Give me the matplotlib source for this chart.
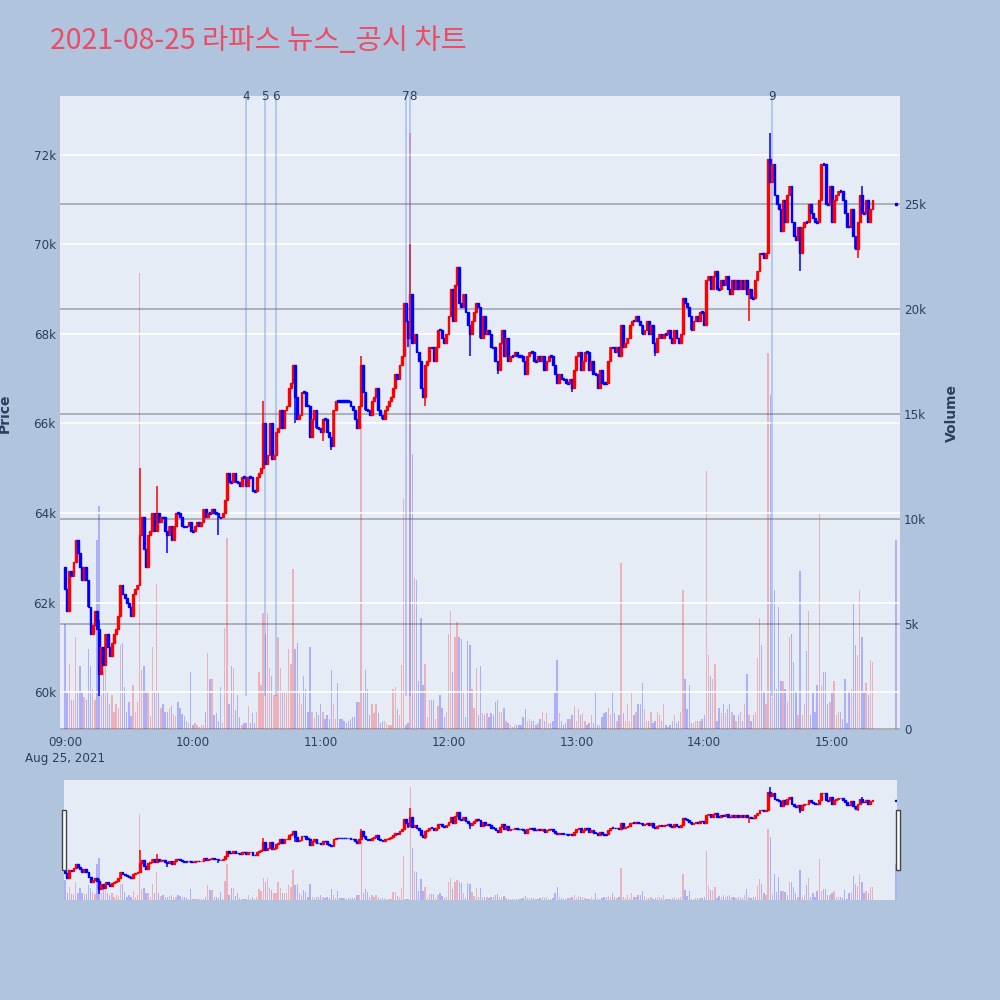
import matplotlib.pyplot as plt
from matplotlib.patches import Rectangle

plt.rcParams['font.family'] = ['DejaVu Sans']

title = "2021-08-25 라파스 뉴스_공시 차트"

# 1분봉 종가, 09:00 부터 15:19 까지
first_open = 62800
close = [
    62300, 61800, 62700, 62600, 62900, 63400, 63100, 62800, 62500, 62800,
    62500, 61900, 61300, 61500, 61800, 61400, 60400, 61000, 60600, 61300,
    61000, 60800, 61100, 61300, 61400, 61700, 62400, 62200, 62100, 62000,
    61900, 61700, 62200, 62300, 62400, 63500, 63900, 63200, 62800, 63500,
    63600, 64000, 63600, 64000, 63800, 63900, 63900, 63600, 63500, 63700,
    63400, 63700, 64000, 64000, 63900, 63700, 63700, 63700, 63800, 63600,
    63600, 63700, 63800, 63700, 63800, 64100, 63900, 64000, 64000, 64100,
    64000, 64000, 63900, 63900, 64000, 64300, 64900, 64700, 64700, 64900,
    64700, 64700, 64600, 64800, 64800, 64600, 64800, 64800, 64500, 64500,
    64800, 64900, 65000, 66000, 65100, 65300, 66000, 65200, 65300, 65800,
    65900, 66300, 65900, 66300, 66400, 66800, 66900, 67300, 66600, 66100,
    66200, 66700, 66700, 66400, 66400, 65700, 66100, 66300, 65900, 65900,
    65800, 66100, 66100, 65800, 65700, 65500, 66300, 66500, 66500, 66500,
    66500, 66500, 66500, 66500, 66400, 66300, 66100, 65900, 66400, 67300,
    66700, 66300, 66300, 66200, 66500, 66600, 66800, 66300, 66200, 66100,
    66300, 66400, 66500, 66600, 66800, 67100, 67000, 67300, 67500, 68700,
    68300, 67900, 68900, 67800, 68000, 67600, 67400, 66800, 66600, 67300,
    67400, 67700, 67700, 67400, 67700, 68100, 68100, 67900, 67800, 68000,
    68400, 69000, 68300, 69100, 69500, 68700, 68600, 68900, 68500, 68200,
    68000, 68300, 68500, 68700, 68600, 67900, 68400, 68000, 68100, 68000,
    67700, 67700, 67400, 67200, 67800, 68100, 67500, 67900, 67400, 67500,
    67500, 67600, 67500, 67500, 67500, 67400, 67100, 67500, 67600, 67600,
    67400, 67400, 67500, 67400, 67500, 67200, 67400, 67500, 67500, 67300,
    67100, 66900, 67100, 67000, 67000, 66900, 66900, 67000, 66800, 67200,
    67500, 67600, 67200, 67400, 67600, 67600, 67200, 67400, 67100, 67100,
    66800, 67200, 66900, 66900, 66900, 67400, 67700, 67700, 67600, 67700,
    67500, 68200, 67700, 67800, 67900, 68200, 68300, 68300, 68400, 68300,
    68200, 68000, 68100, 68300, 68000, 68200, 67800, 67600, 67900, 68000,
    67900, 68000, 68000, 68100, 67900, 67800, 68100, 67900, 67800, 68000,
    68800, 68700, 68600, 68400, 68100, 68300, 68400, 68300, 68500, 68500,
    68200, 69200, 69300, 69000, 69300, 69400, 69000, 69000, 69200, 69100,
    69300, 69000, 68900, 69200, 69000, 69200, 69000, 69200, 69000, 69200,
    68900, 69000, 68800, 68800, 69200, 69400, 69800, 69800, 69700, 69800,
    71900, 71400, 71800, 71100, 70900, 70800, 70300, 71000, 70500, 71100,
    71300, 70500, 70200, 70100, 70400, 69800, 70400, 70500, 70500, 70900,
    70700, 70600, 70500, 70500, 71000, 71800, 71800, 70900, 70900, 71300,
    70500, 71000, 71100, 71200, 71200, 71000, 70700, 70400, 70400, 70800,
    70200, 69900, 70500, 71100, 70700, 70700, 71000, 70500, 70800, 71000,
]
# 꼬리 (분 인덱스: 가격)
high_wick = {16: 61600, 35: 65000, 43: 64600, 93: 66500, 139: 67500,
             162: 70000, 331: 72500, 374: 71300}
low_wick = {16: 59900, 48: 63100, 72: 63500, 108: 66000, 121: 65600,
            125: 65400, 161: 67700, 169: 66400, 190: 67500, 203: 67100,
            238: 66700, 277: 67500, 321: 68300, 345: 69400, 372: 69700}

volume = [
    5000, 1700, 3100, 1400, 1400, 4400, 1700, 3000, 1700, 1500,
    1400, 3800, 3000, 1900, 1400, 9000, 10600, 1600, 2700, 3000,
    1800, 1200, 1600, 800, 1200, 1000, 4000, 4100, 2000, 800,
    1300, 600, 2100, 800, 1300, 21700, 2800, 3000, 1800, 1800,
    600, 3900, 1800, 6900, 1800, 1000, 1200, 800, 800, 1000,
    1100, 700, 600, 1300, 1000, 700, 600, 400, 300, 2700,
    200, 300, 200, 100, 200, 200, 800, 3600, 2400, 2400,
    650, 750, 370, 2000, 300, 4800, 9100, 1200, 3000, 2900,
    900, 1600, 560, 190, 280, 280, 1100, 280, 740, 280,
    830, 2700, 2100, 5500, 4500, 5500, 2900, 2500, 1600, 1600,
    4400, 2900, 1800, 1800, 1800, 3800, 3100, 7600, 3800, 4100,
    1800, 1200, 2500, 1900, 800, 3900, 800, 500, 800, 650,
    1200, 830, 460, 650, 460, 2800, 1200, 460, 2200, 460,
    460, 370, 280, 370, 460, 560, 560, 1300, 1300, 14500,
    1800, 2800, 1900, 650, 1200, 740, 1200, 740, 280, 370,
    370, 280, 190, 190, 1900, 2000, 930, 650, 3050, 11000,
    200, 300, 28400, 13100, 7200, 7100, 2300, 5300, 2100, 3100,
    560, 1400, 1400, 1400, 460, 1100, 1600, 1000, 560, 830,
    4500, 5600, 2700, 4400, 5100, 4400, 4300, 1800, 560, 4200,
    4000, 1900, 1000, 2900, 650, 3000, 740, 650, 740, 560,
    740, 650, 1300, 1400, 830, 830, 1000, 370, 280, 190,
    100, 190, 190, 190, 190, 560, 930, 370, 460, 370,
    370, 190, 280, 460, 830, 370, 740, 280, 280, 370,
    1700, 3300, 740, 370, 190, 280, 460, 460, 650, 1100,
    370, 930, 650, 740, 370, 190, 280, 650, 280, 1800,
    190, 190, 560, 740, 830, 1000, 650, 1800, 740, 370,
    650, 7900, 740, 370, 1200, 370, 1700, 650, 830, 1200,
    1200, 2200, 930, 370, 370, 830, 280, 370, 830, 650,
    370, 1200, 190, 100, 190, 370, 650, 280, 370, 830,
    6600, 2400, 930, 2100, 280, 280, 370, 370, 370, 460,
    650, 12300, 3500, 2500, 2400, 3100, 370, 1000, 740, 1200,
    740, 930, 1200, 830, 650, 370, 650, 830, 370, 1200,
    2600, 650, 370, 650, 830, 3400, 5300, 4000, 1800, 1200,
    17900, 15900, 1500, 6600, 1900, 5800, 2300, 2300, 1900, 1300,
    4400, 4500, 3200, 1800, 650, 7500, 650, 1200, 3700, 5600,
    650, 1700, 830, 2100, 10300, 2100, 2700, 2700, 1200, 1300,
    1800, 2300, 650, 830, 830, 460, 2400, 280, 1800, 1900,
    6000, 4000, 3500, 6600, 4400, 1800, 2200, 1600, 3300, 3200,
]

# 장 마감 동시호가
auction_time = "15:30"
auction_price = 70900
auction_volume = 9000

news_times = ["10:25", "10:34", "10:39", "11:40", "11:42", "14:32"]
news_labels = ["4", "5", "6", "7", "8", "9"]

BG = "#B0C4DE"
PLOT_BG = "#E5ECF6"
FONT = "#2a3f5f"
UP = "#FF0000"
DOWN = "#0000FF"


def to_min(t):
    hh, mm = t.split(":")
    return (int(hh) - 9) * 60 + int(mm)


xs = list(range(len(close))) + [to_min(auction_time)]
c = close + [auction_price]
o = [first_open] + close[:-1] + [auction_price]
v = volume + [auction_volume]
hi = [max(a, b) for a, b in zip(o, c)]
lo = [min(a, b) for a, b in zip(o, c)]
for k, val in high_wick.items():
    hi[k] = val
for k, val in low_wick.items():
    lo[k] = val
cols = [UP if cc > oo else DOWN for oo, cc in zip(o, c)]

PRICE_LIM = (59151, 73318)
VOL_LIM = (-48, 30140)


def draw(ax_p, ax_v):
    ax_v.bar(xs, v, width=0.65, color=cols, alpha=0.25, linewidth=0, zorder=2)
    ax_p.vlines(xs, lo, hi, colors=cols, linewidth=1.1, zorder=3)
    bottoms, heights = [], []
    for oo, cc in zip(o, c):
        d = abs(cc - oo)
        b = min(oo, cc)
        if d < 40:
            b -= (40 - d) / 2
            d = 40
        bottoms.append(b)
        heights.append(d)
    ax_p.bar(xs, heights, bottom=bottoms, width=0.85, color=cols,
             edgecolor=cols, linewidth=1.0, zorder=3)
    ax_p.set_ylim(*PRICE_LIM)
    ax_v.set_ylim(*VOL_LIM)
    ax_v.patch.set_visible(True)
    ax_v.patch.set_facecolor(PLOT_BG)
    ax_p.set_zorder(ax_v.get_zorder() + 1)
    ax_p.patch.set_visible(False)
    for a in (ax_p, ax_v):
        for s in a.spines.values():
            s.set_visible(False)


fig = plt.figure(figsize=(10, 10), dpi=100, facecolor=BG)

# 메인 차트
ax = fig.add_axes([0.06, 0.27, 0.84, 0.634])
ax2 = ax.twinx()
draw(ax, ax2)
ax.set_xlim(-2.35, 391.9)

ax.set_yticks(range(60000, 72001, 2000))
ax.set_yticklabels([f"{p // 1000}k" for p in range(60000, 72001, 2000)])
ax.yaxis.grid(True, color="white", linewidth=1.2, zorder=0)
ax.set_axisbelow(True)
ax2.set_yticks(range(0, 25001, 5000))
ax2.set_yticklabels(["0"] + [f"{q // 1000}k" for q in range(5000, 25001, 5000)])
ax2.yaxis.grid(True, color="#A9ABB3", linewidth=1.3, zorder=0)
ax2.set_axisbelow(True)

hours = [0, 60, 120, 180, 240, 300, 360]
hour_labels = ["09:00\nAug 25, 2021", "10:00", "11:00", "12:00", "13:00", "14:00", "15:00"]
ax.set_xticks(hours)
ax.set_xticklabels(hour_labels, linespacing=1.35, va="top")
ax.tick_params(axis="x", length=0, pad=4, labelsize=8.6, labelcolor=FONT)
ax.tick_params(axis="y", length=0, pad=3, labelsize=8.6, labelcolor=FONT)
ax2.tick_params(axis="y", length=0, pad=3, labelsize=8.6, labelcolor=FONT)
ax.xaxis.grid(False)

ax.set_ylabel("Price", fontsize=10, fontweight="bold", color=FONT)
ax.yaxis.set_label_coords(-0.057, 0.5)
ax2.set_ylabel("Volume", fontsize=10, fontweight="bold", color=FONT)
ax2.yaxis.set_label_coords(1.0536, 0.5)

# 뉴스 / 공시 시점
for t, lab in zip(news_times, news_labels):
    m = to_min(t)
    ax.vlines(m, 59900, PRICE_LIM[1], colors="royalblue", alpha=0.35,
              linewidth=1.2, zorder=4)
    ha = "center"
    xm = m
    if lab == "7":
        ha, xm = "right", m + 1.6
    elif lab == "8":
        ha, xm = "left", m - 0.4
    ax.text(xm, 1.0, lab, transform=ax.get_xaxis_transform(), ha=ha,
            va="center", fontsize=8.6, color=FONT, zorder=5)

# 레인지 슬라이더
axs = fig.add_axes([0.064, 0.10, 0.833, 0.12])
axs2 = axs.twinx()
draw(axs, axs2)
axs.set_xlim(-0.5, 390.5)
for a in (axs, axs2):
    a.set_xticks([])
    a.set_yticks([])
for xl in (0.0615, 0.8955):
    fig.patches.append(Rectangle((xl, 0.13), 0.004, 0.06, transform=fig.transFigure,
                                 facecolor="white", edgecolor="#444444",
                                 linewidth=1.0, zorder=10))

fig.text(0.05, 0.959, title, fontsize=20.5, color="#EC4D66", ha="left", va="center",
         family=["Noto Sans CJK KR", "DejaVu Sans"])

fig.savefig("out.png", dpi=100, facecolor=BG)
